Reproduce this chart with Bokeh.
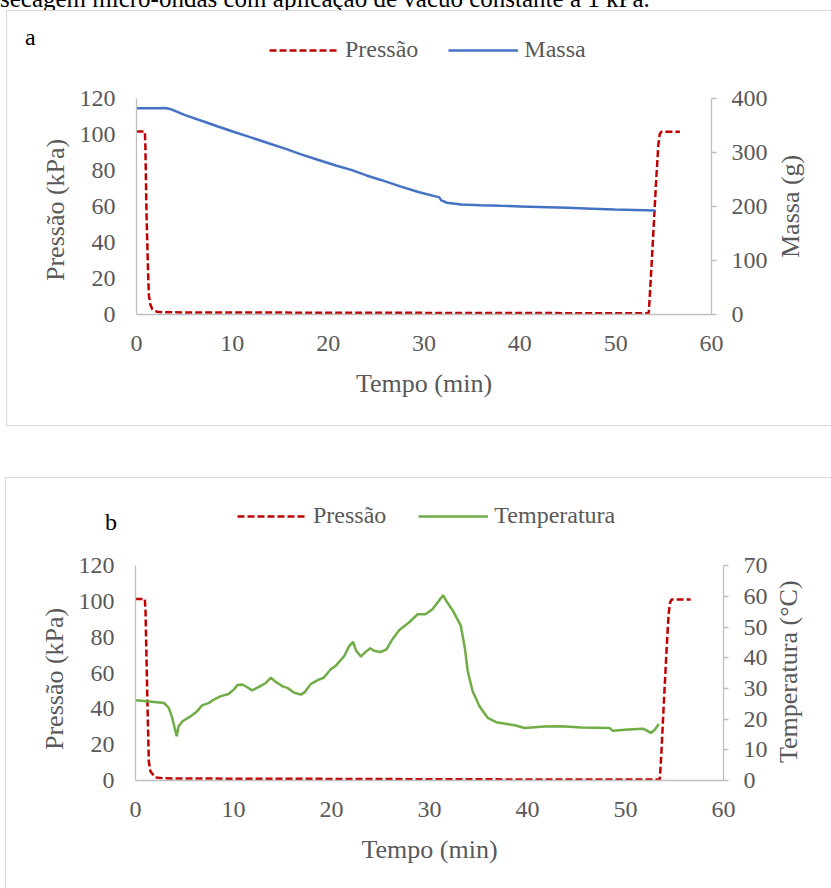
from bokeh.plotting import figure
from bokeh.models import (Range1d, LinearAxis, Legend, LegendItem, Div,
                          Spacer, FixedTicker)
from bokeh.layouts import column
from bokeh.embed import file_html
from bokeh.resources import INLINE

# ---------------- data ----------------
caption = "secagem micro-ondas com aplicação de vácuo constante a 1 kPa."

x_ticks = [0, 10, 20, 30, 40, 50, 60]
p_ticks = [0, 20, 40, 60, 80, 100, 120]
m_ticks = [0, 100, 200, 300, 400]
t_ticks = [0, 10, 20, 30, 40, 50, 60, 70]

# panel a - pressure (kPa)
ta_p = [0, 0.87, 0.92, 1.05, 1.2, 1.29, 1.45, 1.64, 2.16, 3.0, 10, 20, 30, 40,
        50, 53.45, 53.6, 53.9, 54.2, 54.45, 54.6, 54.75, 56.7]
pa_p = [101.4, 101.4, 95, 55, 25, 10.6, 5.5, 3.0, 1.5, 1.2, 1.1, 1.0, 0.9, 0.8,
        0.7, 0.7, 14, 42, 72, 94, 100, 101.3, 101.3]

# panel a - mass (g)
ta_m = [0, 1, 2, 3, 3.5, 4.2, 5, 6.7, 8.5, 10.2, 12, 13.7, 15.5, 17.1, 19,
        20.8, 22.4, 24, 25.5, 27.6, 29.5, 31.6, 31.8, 32.4, 33.9, 35.9, 38,
        40, 42.9, 45, 47.5, 49.9, 52, 54.1]
ma_m = [381, 381, 381, 381.5, 380, 375, 369, 358.5, 347.5, 337.3, 327, 317,
        306.5, 296.4, 285.5, 275.5, 267.3, 257, 248.7, 236.3, 226, 216.4, 211,
        206.5, 203.4, 202.1, 200.8, 199.8, 198.4, 197.2, 195.6, 194.1, 193.2,
        192.3]

# panel b - pressure (kPa)
tb_p = [0, 0.95, 1.02, 1.2, 1.36, 1.53, 2.04, 3.0, 10, 20, 30, 40, 50, 53.5,
        53.65, 53.9, 54.2, 54.4, 54.55, 54.7, 56.65]
pb_p = [101.5, 101.5, 95, 48, 10.6, 5.0, 1.7, 1.2, 1.0, 0.9, 0.7, 0.6, 0.6,
        0.6, 14, 42, 74, 93, 99.5, 101.2, 101.2]

# panel b - temperature (°C)
tb_t = [0, 1.2, 2.9, 3.4, 3.75, 4.2, 4.4, 4.8, 5.6, 6.3, 6.8, 7.5, 8.0, 8.7,
        9.5, 10.05, 10.4, 10.9, 11.4, 11.9, 12.6, 13.3, 13.8, 14.3, 15.0, 15.5,
        16.2, 16.9, 17.3, 17.9, 18.6, 19.2, 19.9, 20.4, 21.3, 21.8, 22.2, 22.5,
        23.0, 23.5, 23.95, 24.4, 25.0, 25.6, 26.2, 26.9, 27.9, 28.8, 29.6, 30.3,
        31.0, 31.4, 31.7, 32.4, 33.2, 33.6, 33.9, 34.4, 35.1, 35.95, 36.8, 38.7,
        39.7, 41.7, 43.4, 45.5, 48.4, 48.7, 50.3, 51.8, 52.6, 53.0, 53.4]
Tb_t = [26.2, 25.8, 25.3, 23.7, 20.4, 14.4, 17.7, 19.3, 20.9, 22.6, 24.5, 25.3,
        26.4, 27.5, 28.2, 29.7, 31.1, 31.3, 30.4, 29.4, 30.5, 31.8, 33.5, 32.2,
        30.7, 30.2, 28.6, 28.0, 28.9, 31.5, 32.7, 33.5, 36.2, 37.3, 40.6, 43.8,
        45.2, 42.4, 40.4, 42.0, 43.1, 42.2, 41.9, 42.7, 46.0, 49.0, 51.5, 54.2,
        54.2, 55.8, 58.8, 60.4, 58.6, 55.3, 50.4, 43.3, 35.7, 29.1, 24.2, 20.4,
        19.0, 18.0, 17.1, 17.6, 17.7, 17.3, 17.1, 16.2, 16.6, 16.9, 15.5, 16.6,
        18.4]

# ---------------- style ----------------
FONT = "Liberation Serif"
GREY = "#595959"
AXC = "#bfbfbf"
RED = "#c00000"
BLUE = "#4472c4"
GREEN = "#70ad47"
BORDER = "1px solid #d9d9d9"
BL, BR = 129, 109          # shared side borders (column aligns them)


def style_axis(ax, standoff, label_standoff, tick_out=0):
    ax.axis_line_color = AXC
    ax.axis_line_width = 1.3
    ax.major_tick_line_color = AXC
    ax.major_tick_line_width = 1.3
    ax.major_tick_out = tick_out
    ax.major_tick_in = 0
    ax.minor_tick_out = 0
    ax.minor_tick_in = 0
    ax.major_label_text_font = FONT
    ax.major_label_text_font_size = "24px"
    ax.major_label_text_color = GREY
    ax.axis_label_text_font = FONT
    ax.axis_label_text_font_size = "26px"
    ax.axis_label_text_font_style = "normal"
    ax.axis_label_text_color = GREY
    ax.major_label_standoff = standoff
    ax.axis_label_standoff = label_standoff


def panel(width, height, bb, frame_px, right_name, right_max, right_ticks,
          styles, left_margin):
    # The frame reaches the top of the canvas so that the legend drawn above
    # the axes is not clipped; axis bounds keep the visible axes at 0-120 and
    # 0-right_max, so the scale is the one of the reference.
    frame_h = height - bb
    ymax = 120 * frame_h / frame_px
    rmax = right_max * frame_h / frame_px
    p = figure(width=width, height=height, output_backend="svg",
               toolbar_location=None, x_range=Range1d(0, 60),
               y_range=Range1d(0, ymax), min_border_left=BL,
               min_border_right=BR, min_border_top=0, min_border_bottom=bb)
    p.styles = dict(styles, **{"box-sizing": "content-box"})
    p.margin = (0, 0, 0, left_margin)
    p.outline_line_color = None
    p.grid.visible = False
    p.background_fill_color = "white"
    p.border_fill_color = "white"
    p.extra_y_ranges = {right_name: Range1d(0, rmax)}
    p.xaxis.ticker = FixedTicker(ticks=x_ticks)
    p.yaxis.ticker = FixedTicker(ticks=p_ticks)
    p.yaxis.bounds = (0, 120)
    p.xaxis.axis_label = "Tempo (min)"
    style_axis(p.xaxis[0], 21, 15)
    style_axis(p.yaxis[0], 21, 7)
    ax = LinearAxis(y_range_name=right_name,
                    ticker=FixedTicker(ticks=right_ticks),
                    bounds=(0, right_max))
    style_axis(ax, 15, 20, tick_out=5)
    p.add_layout(ax, "right")
    return p


def make_legend(p, items, loc, spacing):
    leg = Legend(items=items, orientation="horizontal", location=loc,
                 padding=5, margin=0, spacing=spacing, glyph_width=70,
                 glyph_height=20, label_standoff=6, label_text_font=FONT,
                 label_text_font_size="24px", label_text_color=GREY,
                 label_text_baseline="middle",
                 border_line_alpha=0, background_fill_alpha=0)
    p.add_layout(leg)


def overlay(html, top, left, w, h):
    """HTML laid over the plots (takes no room in the column)."""
    d = Div(text=html, width=w, height=h,
            styles={"position": "relative", "z-index": "5"})
    d.margin = (top, 0, -(top + h), left)
    return d


def letter(txt, top, left):
    html = ('<div style="font-family:\'Liberation Serif\';font-size:24px;'
            'line-height:24px;color:#000;white-space:nowrap">' + txt + '</div>')
    return overlay(html, top, left, 20, 30)


def v_title(txt, top, left, h):
    # axis title reading bottom-to-top, centred on its axis
    html = ('<div style="writing-mode:vertical-rl;transform:rotate(180deg);'
            'text-align:center;width:32px;height:%dpx;line-height:32px;'
            'font-family:\'Liberation Serif\';font-size:26px;color:%s;'
            'white-space:nowrap">%s</div>' % (h, GREY, txt))
    return overlay(html, top, left, 32, h)


def box_edge(top, left, w, inner_h):
    # continues the top and bottom border lines of panel a to the page edge
    html = ('<div style="box-sizing:content-box;width:%dpx;height:%dpx;'
            'border-top:%s;border-bottom:%s"></div>'
            % (w, inner_h, BORDER, BORDER))
    return overlay(html, top, left, w, inner_h + 2)


# ---------------- panel a ----------------
pa = panel(BL + 574 + BR, 414, 113, 215, "m", 400, m_ticks,
           {"border-left": BORDER, "border-top": BORDER,
            "border-bottom": BORDER}, 6)
ra1 = pa.line(ta_p, pa_p, line_color=RED, line_width=2.5, line_dash="7 3")
ra2 = pa.line(ta_m, ma_m, line_color=BLUE, line_width=2.5, y_range_name="m")
make_legend(pa, [LegendItem(label="Pressão", renderers=[ra1]),
                 LegendItem(label="Massa", renderers=[ra2])], (128, 246), 30)

# ---------------- panel b ----------------
pb = panel(BL + 587 + BR, 410, 109, 214, "t", 70, t_ticks,
           {"border-left": BORDER, "border-top": BORDER}, 5)
rb1 = pb.line(tb_p, pb_p, line_color=RED, line_width=2.5, line_dash="7 3")
rb2 = pb.line(tb_t, Tb_t, line_color=GREEN, line_width=2.5, y_range_name="t")
make_legend(pb, [LegendItem(label="Pressão", renderers=[rb1]),
                 LegendItem(label="Temperatura", renderers=[rb2])],
            (97, 246), 32)

cap = Div(text=('<div style="position:relative;top:-13px;'
                'font-family:\'Liberation Serif\';font-size:25px;'
                'line-height:24px;white-space:nowrap;color:#000">'
                + caption + '</div>'),
          width=831, height=10, styles={"overflow": "hidden"})
cap.margin = (0, 0, 0, 0)

# overlays before panel a start at y=10, before panel b at y=477
edge_a = box_edge(0, 818, 13, 414)
lab_a = letter("a", 15, 25)
ltit_a = v_title("Pressão (kPa)", 92, 40, 215)
rtit_a = v_title("Massa (g)", 89, 775, 215)
lab_b = letter("b", 33, 105)
ltit_b = v_title("Pressão (kPa)", 95, 39, 214)
rtit_b = v_title("Temperatura (°C)", 88, 773, 214)

layout = column(cap, edge_a, lab_a, ltit_a, rtit_a, pa, Spacer(height=51),
                lab_b, ltit_b, rtit_b, pb)

open("out.html", "w").write(file_html(layout, INLINE))
